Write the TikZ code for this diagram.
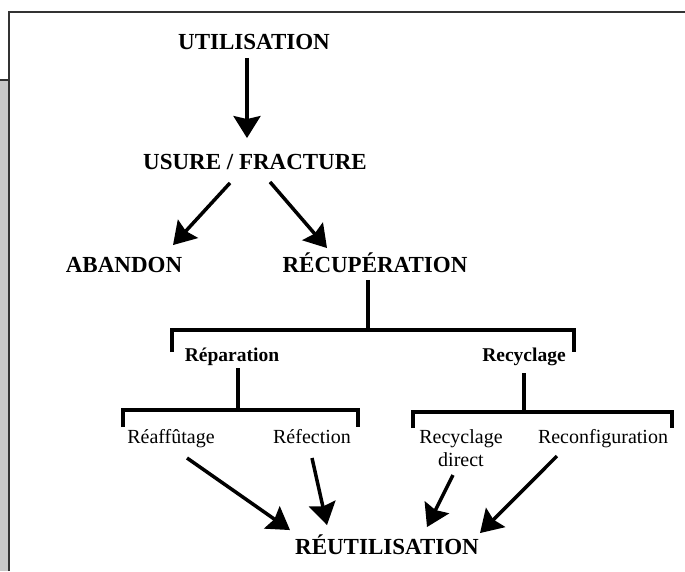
\documentclass[tikz,border=0pt]{standalone}
\usepackage{fontspec}
\setmainfont{Liberation Serif}
\usepackage{xcolor}
\usepackage{tikz}
\usetikzlibrary{arrows.meta,positioning}
\definecolor{FrameGrey}{HTML}{333333}
\definecolor{SideGrey}{HTML}{C8C8C8}

\begin{document}
\begin{tikzpicture}[x=1pt,y=-1pt,
  stage/.style={font=\bfseries\fontsize{23}{26}\selectfont,inner sep=0pt,text height=15.5pt,text depth=0pt},
  branch/.style={font=\bfseries\fontsize{19.5}{22}\selectfont,inner sep=0pt,text height=13pt,text depth=0pt},
  leaf/.style={font=\fontsize{20}{23}\selectfont,inner sep=0pt,align=center,anchor=base},
  flow/.style={-{Stealth[length=22pt,width=27pt,inset=3pt]},line width=3.5pt},
  bar/.style={line width=4pt}
]
\useasboundingbox (0,0) rectangle (685,571);
\fill[SideGrey] (0,80) rectangle (8,571);
\draw[FrameGrey,line width=2pt] (0,80) -- (9,80);
\draw[FrameGrey,line width=2pt] (9,571) -- (9,12) -- (685,12);

\node[stage] (util) at (254,42) {UTILISATION};
\node[stage] (usure) at (255,162) {USURE / FRACTURE};
\node[stage] (abandon) at (124,265) {ABANDON};
\node[stage] (recup) at (375,265) {RÉCUPÉRATION};
\node[branch] (repar) at (232,355) {Réparation};
\node[branch] (recyc) at (524,355) {Recyclage};
\node[leaf] (reaff) at (171,443) {Réaffûtage};
\node[leaf] (refec) at (312,443) {Réfection};
\node[leaf] (recdir) at (461,466) {Recyclage\\direct};
\node[leaf] (reconf) at (603,443) {Reconfiguration};
\node[stage] (reutil) at (387,547) {RÉUTILISATION};

\coordinate (splitA) at (368,330);
\coordinate (reparEnd) at (172,352);
\coordinate (recycEnd) at (574,352);
\coordinate (splitB) at (238,410);
\coordinate (reaffEnd) at (123,427);
\coordinate (refecEnd) at (358,427);
\coordinate (splitC) at (524,412);
\coordinate (recdirEnd) at (413,428);
\coordinate (reconfEnd) at (672,428);

\draw[flow] ([xshift=-7pt,yshift=-8pt]util.south) -- ([xshift=-8pt,yshift=16pt]usure.north);
\draw[flow] ([xshift=-25pt,yshift=-13pt]usure.south) -- ([xshift=49pt,yshift=12pt]abandon.north);
\draw[flow] ([xshift=15pt,yshift=-12pt]usure.south) -- ([xshift=-48pt,yshift=9pt]recup.north);

\draw[bar] ([xshift=-7pt,yshift=-7pt]recup.south) -- (splitA);
\draw[bar] (reparEnd) |- (splitA) -| (recycEnd);
\draw[bar] ([xshift=6pt,yshift=-6.5pt]repar.south) -- (splitB);
\draw[bar] (reaffEnd) |- (splitB) -| (refecEnd);
\draw[bar] ([yshift=-11.5pt]recyc.south) -- (splitC);
\draw[bar] (recdirEnd) |- (splitC) -| (reconfEnd);

\draw[flow] ([xshift=16pt,yshift=-15pt]reaff.base) -- ([xshift=-97pt,yshift=9pt]reutil.north);
\draw[flow] ([yshift=-15pt]refec.base) -- ([xshift=-60pt,yshift=14pt]reutil.north);
\draw[flow] ([xshift=-8pt,yshift=-9pt]recdir.base) -- ([xshift=40pt,yshift=12pt]reutil.north);
\draw[flow] ([xshift=-46pt,yshift=-13pt]reconf.base) -- ([xshift=93pt,yshift=6pt]reutil.north);
\end{tikzpicture}
\end{document}
